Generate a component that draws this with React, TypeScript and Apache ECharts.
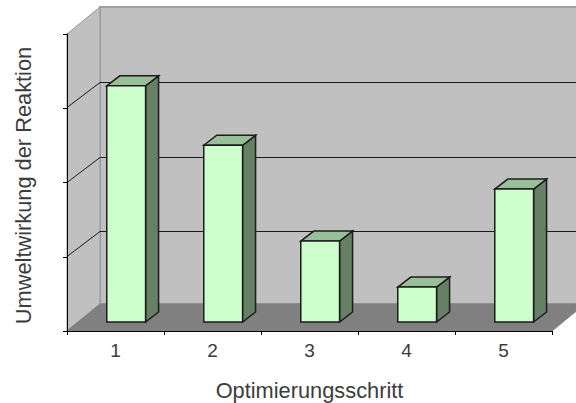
import React, { useEffect, useRef } from "react";
import * as echarts from "echarts";

const categories = ["1", "2", "3", "4", "5"];
const values = [3.18, 2.38, 1.09, 0.47, 1.79];
const gridValues = [1, 2, 3];
const xTitle = "Optimierungsschritt";
const yTitle = "Umweltwirkung der Reaktion";

const WALL_DX = 33;
const FLOOR_DY = -27;
const GRID_DY = -25;

export default function App() {
  const ref = useRef<HTMLDivElement>(null);
  useEffect(() => {
    document.body.style.margin = "0";
    const chart = echarts.init(ref.current!, undefined, { renderer: "svg" });

    const renderRoom = (params: any, api: any) => {
      const c = params.coordSys;
      const l = c.x, r = c.x + c.width, t = c.y, b = c.y + c.height;
      const children: any[] = [
        { type: "rect", shape: { x: l + WALL_DX, y: 7, width: r - l, height: b + FLOOR_DY - 7 },
          style: { fill: "#c0c0c0", stroke: "#a0a0a0", lineWidth: 2 } },
        { type: "polygon", shape: { points: [[l, t], [l + WALL_DX, 7], [l + WALL_DX, b + FLOOR_DY], [l, b]] },
          style: { fill: "#c0c0c0", stroke: "#969696", lineWidth: 1 } },
        { type: "polygon", shape: { points: [[l, b], [r, b], [r + WALL_DX, b + FLOOR_DY], [l + WALL_DX, b + FLOOR_DY]] },
          style: { fill: "#808080", stroke: "#808080", lineWidth: 1 } },
      ];
      gridValues.forEach((v) => {
        const y = Math.round(api.coord([0, v])[1]) - 0.5;
        children.push({
          type: "polyline",
          shape: { points: [[l, y], [l + WALL_DX, y + GRID_DY], [r + WALL_DX, y + GRID_DY]] },
          style: { fill: "none", stroke: "#1a1a1a", lineWidth: 1 },
        });
      });
      return { type: "group", children };
    };

    const renderBar = (_params: any, api: any) => {
      const band = api.size([1, 0])[0];
      const top = api.coord([api.value(0), api.value(1)]);
      const base = api.coord([api.value(0), 0]);
      const w = band * 0.4;
      const x0 = top[0] + band * 0.11 - w / 2;
      const x1 = x0 + w;
      const lift = band * 0.093;
      const yT = top[1] - lift;
      const yB = base[1] - lift;
      const dx = band * 0.134;
      const dy = -band * 0.103;
      const line = { stroke: "#1c1c1c", lineWidth: 1.5, lineJoin: "miter" };
      return {
        type: "group",
        children: [
          { type: "polygon", shape: { points: [[x1, yT], [x1 + dx, yT + dy], [x1 + dx, yB + dy], [x1, yB]] },
            style: { fill: "#668066", ...line } },
          { type: "polygon", shape: { points: [[x0, yT], [x0 + dx, yT + dy], [x1 + dx, yT + dy], [x1, yT]] },
            style: { fill: "#99bf99", ...line } },
          { type: "rect", shape: { x: x0, y: yT, width: w, height: yB - yT },
            style: { fill: "#ccffcc", ...line } },
        ],
      };
    };

    chart.setOption({
      animation: false,
      backgroundColor: "#ffffff",
      grid: { left: 67, right: 24, top: 34, bottom: 72, outerBoundsMode: "none" },
      xAxis: {
        type: "category",
        data: categories,
        z: 5,
        name: xTitle,
        nameLocation: "middle",
        nameGap: 48,
        nameTextStyle: { fontFamily: "Liberation Sans", fontSize: 21.8, color: "#3c3c3c" },
        axisLine: { show: true, lineStyle: { color: "#000", width: 1 } },
        axisTick: { show: true, length: 4, inside: false, alignWithLabel: false, lineStyle: { color: "#000" } },
        axisLabel: { fontFamily: "Liberation Sans", fontSize: 19, color: "#3c3c3c", margin: 10 },
        splitLine: { show: false },
      },
      yAxis: {
        type: "value",
        min: 0,
        max: 4,
        interval: 1,
        z: 5,
        name: yTitle,
        nameLocation: "middle",
        nameGap: 33,
        nameTextStyle: { fontFamily: "Liberation Sans", fontSize: 21.8, color: "#3c3c3c", padding: [0, 6, 0, 0] },
        axisLine: { show: true, lineStyle: { color: "#000", width: 1 } },
        axisTick: { show: true, length: 4, lineStyle: { color: "#000" } },
        axisLabel: { show: false },
        splitLine: { show: false },
      },
      series: [
        { type: "custom", z: 1, clip: false, silent: true, data: [[0, 0]], renderItem: renderRoom },
        {
          type: "custom",
          z: 3,
          clip: false,
          encode: { x: 0, y: 1 },
          data: values.map((v, i) => [i, v]),
          renderItem: renderBar,
        },
      ],
    });
    return () => chart.dispose();
  }, []);
  return <div ref={ref} style={{ width: 576, height: 403 }} />;
}
